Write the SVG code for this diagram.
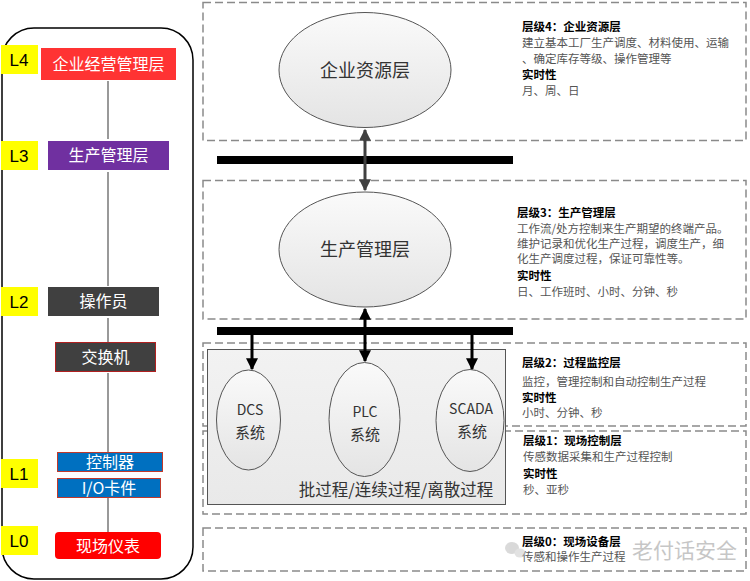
<svg xmlns="http://www.w3.org/2000/svg" width="750" height="581" viewBox="0 0 750 581">
<defs>
<linearGradient id="eg" x1="0" y1="0" x2="0" y2="1"><stop offset="0" stop-color="#fafafa"/><stop offset="1" stop-color="#e4e4e4"/></linearGradient>
<linearGradient id="bg" x1="0" y1="0" x2="0" y2="1"><stop offset="0" stop-color="#f2f2f2"/><stop offset="1" stop-color="#e9e9e9"/></linearGradient>
<marker id="ah" viewBox="0 0 10 10" refX="9" refY="5" markerWidth="4" markerHeight="4" orient="auto-start-reverse"><path d="M0,0 L10,5 L0,10 z" fill="#000"/></marker>
<marker id="ahg" viewBox="0 0 10 10" refX="9" refY="5" markerWidth="4" markerHeight="4" orient="auto-start-reverse"><path d="M0,0 L10,5 L0,10 z" fill="#404040"/></marker>
<style>
.dash{fill:none;stroke:#8a8a8a;stroke-width:1.5;stroke-dasharray:8 4}
.ell{fill:url(#eg);stroke:#555;stroke-width:1}
.et{font-family:"Noto Sans CJK SC",sans-serif;fill:#333;text-anchor:middle}
.lab{fill:#ffff00}
.lt{font-family:"Liberation Sans",sans-serif;font-size:17px;fill:#000;text-anchor:middle}
.wt{font-family:"Noto Sans CJK SC",sans-serif;font-size:16px;fill:#fff;text-anchor:middle}
.rt{font-family:"Noto Sans CJK SC",sans-serif;font-size:11.5px;fill:#555}
.rb{font-family:"Noto Sans CJK SC",sans-serif;font-size:11.5px;fill:#000;font-weight:bold}
.bar{fill:#000}
.vl{stroke:#999;stroke-width:2}
</style>
</defs>
<rect width="750" height="581" fill="#fff"/>

<!-- left panel -->
<g id="left-panel">
<rect x="2" y="28" width="191" height="551" rx="32" fill="none" stroke="#000" stroke-width="1.5"/>
<line class="vl" x1="108" y1="81" x2="108" y2="139"/>
<line class="vl" x1="108" y1="172" x2="108" y2="286"/>
<line class="vl" x1="108" y1="318" x2="108" y2="342"/>
<line class="vl" x1="108" y1="373" x2="108" y2="452"/>
<line class="vl" x1="108" y1="497" x2="108" y2="532"/>
</g>
<g id="L4"><rect class="lab" x="1" y="45" width="37" height="29"/><text class="lt" x="19" y="66">L4</text></g>
<g id="L3"><rect class="lab" x="1" y="141" width="37" height="29"/><text class="lt" x="19" y="162">L3</text></g>
<g id="L2"><rect class="lab" x="1" y="287" width="37" height="29"/><text class="lt" x="19" y="308">L2</text></g>
<g id="L1"><rect class="lab" x="1" y="459" width="37" height="29"/><text class="lt" x="19" y="480">L1</text></g>
<g id="L0"><rect class="lab" x="1" y="526" width="37" height="29"/><text class="lt" x="19" y="547">L0</text></g>

<g id="n-erp-left"><rect x="41" y="48" width="135" height="32" fill="#ff3333"/><text class="wt" x="108.5" y="70" font-size="17">企业经营管理层</text></g>
<g id="n-mes-left"><rect x="48" y="141" width="121" height="29" fill="#7030a0"/><text class="wt" x="108.5" y="161">生产管理层</text></g>
<g id="n-operator"><rect x="48" y="287" width="111" height="29" fill="#404040"/><text class="wt" x="103.5" y="307">操作员</text></g>
<g id="n-switch"><rect x="55.5" y="342.5" width="100" height="29" fill="#404040" stroke="#b02020" stroke-width="1"/><text class="wt" x="105.5" y="363">交换机</text></g>
<g id="n-controller"><rect x="57.5" y="452.5" width="105" height="19" fill="#0070c0" stroke="#c0392b" stroke-width="1"/><text class="wt" x="110" y="468" font-size="15">控制器</text></g>
<g id="n-io"><rect x="57.5" y="478.5" width="103" height="19" fill="#0070c0" stroke="#c0392b" stroke-width="1"/><text class="wt" x="109" y="494" font-size="15">I/O卡件</text></g>
<g id="n-field"><rect x="55" y="532" width="106" height="27" rx="4" fill="#ff0000"/><text class="wt" x="108" y="552">现场仪表</text></g>

<!-- dashed level boxes -->
<g id="box-l4"><rect class="dash" x="203" y="2.5" width="543" height="138"/></g>
<g id="box-l3"><rect class="dash" x="203" y="180.5" width="543" height="138.5"/></g>
<g id="box-l2"><rect class="dash" x="203" y="343" width="543" height="83"/></g>
<g id="box-l1"><rect class="dash" x="203" y="431" width="543" height="83"/></g>
<g id="box-l0"><rect class="dash" x="203" y="528" width="543" height="43"/></g>

<!-- process box -->
<g id="process-box">
<rect x="207.5" y="349.5" width="298" height="155" fill="url(#bg)" stroke="#555" stroke-width="1"/>
<text class="et" x="396" y="496" font-size="16.5">批过程/连续过程/离散过程</text>
</g>

<!-- bars -->
<g id="bus-top"><rect class="bar" x="217" y="156" width="296" height="8"/></g>
<g id="bus-bottom"><rect class="bar" x="217" y="327" width="296" height="8"/></g>

<!-- ellipses -->
<g id="n-erp"><ellipse class="ell" cx="365" cy="70" rx="86" ry="57.5"/><text class="et" x="365" y="77" font-size="18">企业资源层</text></g>
<g id="n-mes"><ellipse class="ell" cx="365" cy="249.5" rx="86" ry="57.5"/><text class="et" x="365" y="256" font-size="18">生产管理层</text></g>
<g id="n-dcs"><ellipse class="ell" cx="248.5" cy="420" rx="32" ry="50"/><text class="et" x="250" y="415" font-size="14" font-family="Liberation Sans, sans-serif">DCS</text><text class="et" x="250" y="438" font-size="15">系统</text></g>
<g id="n-plc"><ellipse class="ell" cx="364.5" cy="419.5" rx="35.5" ry="57"/><text class="et" x="365" y="417" font-size="14" font-family="Liberation Sans, sans-serif">PLC</text><text class="et" x="365" y="440" font-size="15">系统</text></g>
<g id="n-scada"><ellipse class="ell" cx="470" cy="420.5" rx="34" ry="51"/><text class="et" x="471" y="414" font-size="14" font-family="Liberation Sans, sans-serif">SCADA</text><text class="et" x="472" y="437" font-size="15">系统</text></g>

<!-- connectors -->
<g id="connectors">
<line x1="365" y1="130" x2="365" y2="190" stroke="#404040" stroke-width="3" marker-start="url(#ahg)" marker-end="url(#ahg)"/>
<line x1="365" y1="327" x2="365" y2="309" stroke="#000" stroke-width="3" marker-end="url(#ah)"/>
<line x1="365" y1="335" x2="365" y2="361" stroke="#000" stroke-width="3" marker-end="url(#ah)"/>
<line x1="252" y1="335" x2="252" y2="369" stroke="#000" stroke-width="3" marker-end="url(#ah)"/>
<line x1="472" y1="335" x2="472" y2="369" stroke="#000" stroke-width="3" marker-end="url(#ah)"/>
</g>

<!-- right texts -->
<g id="t-l4">
<text class="rb" x="522" y="31">层级4：企业资源层</text>
<text class="rt" x="522" y="47">建立基本工厂生产调度、材料使用、运输</text>
<text class="rt" x="522" y="63">、确定库存等级、操作管理等</text>
<text class="rb" x="522" y="79">实时性</text>
<text class="rt" x="522" y="95">月、周、日</text>
</g>
<g id="t-l3">
<text class="rb" x="517" y="217">层级3：生产管理层</text>
<text class="rt" x="517" y="233" font-size="11">工作流/处方控制来生产期望的终端产品。</text>
<text class="rt" x="517" y="248" font-size="11">维护记录和优化生产过程，调度生产，细</text>
<text class="rt" x="517" y="263" font-size="11">化生产调度过程，保证可靠性等。</text>
<text class="rb" x="517" y="280">实时性</text>
<text class="rt" x="517" y="296">日、工作班时、小时、分钟、秒</text>
</g>
<g id="t-l2">
<text class="rb" x="522" y="367">层级2：过程监控层</text>
<text class="rt" x="522" y="386">监控，管理控制和自动控制生产过程</text>
<text class="rb" x="522" y="402">实时性</text>
<text class="rt" x="522" y="417">小时、分钟、秒</text>
</g>
<g id="t-l1">
<text class="rb" x="523" y="445">层级1：现场控制层</text>
<text class="rt" x="523" y="461">传感数据采集和生产过程控制</text>
<text class="rb" x="523" y="478">实时性</text>
<text class="rt" x="523" y="494">秒、亚秒</text>
</g>
<g id="t-l0">
<text class="rb" x="522" y="546">层级0：现场设备层</text>
<text class="rt" x="522" y="561">传感和操作生产过程</text>
</g>

<!-- watermark -->
<g id="watermark" opacity="0.55">
<ellipse cx="512" cy="548" rx="7" ry="6" fill="#bbb"/>
<ellipse cx="520" cy="553" rx="5.5" ry="4.5" fill="#ccc"/>
<text x="632" y="558" font-family="Noto Sans CJK SC, sans-serif" font-size="21" fill="#999">老付话安全</text>
</g>
</svg>
